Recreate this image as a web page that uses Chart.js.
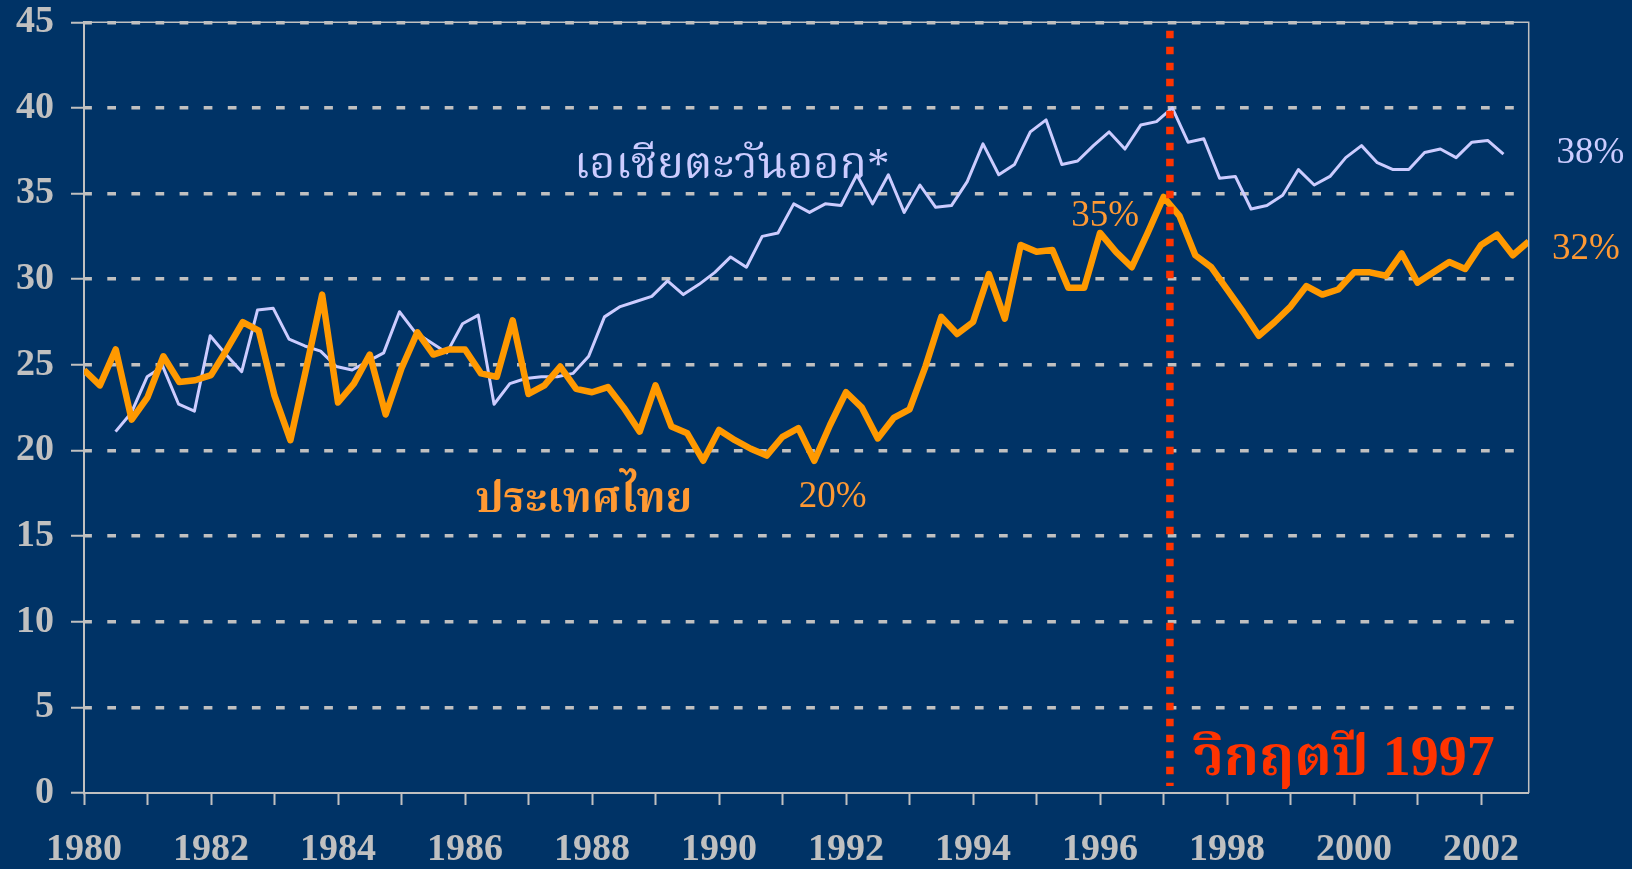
<!DOCTYPE html>
<html>
<head>
<meta charset="utf-8">
<title>Thailand vs East Asia</title>
<script src="https://cdn.jsdelivr.net/npm/chart.js@4.4.0/dist/chart.umd.min.js"></script>
<style>
  html, body { margin: 0; padding: 0; background: #003366; }
  canvas { display: block; }
</style>
</head>
<body>
<canvas id="chart" width="1632" height="869"></canvas>
<script>
'use strict';

/* #################### data #################### */
let firstYear = 1980;
let lastYear = 2002;
let yTicks = [0, 5, 10, 15, 20, 25, 30, 35, 40, 45];

//  Thailand, quarterly 1980 Q1 .. 2002 Q4
let thaiValues = [
  24.7, 23.8, 25.9, 21.8,   // 1980
  23.1, 25.5, 24.0, 24.1,   // 1981
  24.4, 25.9, 27.5, 27.0,   // 1982
  23.2, 20.6, 24.8, 29.1,   // 1983
  22.8, 23.9, 25.6, 22.1,   // 1984
  24.8, 26.9, 25.6, 25.9,   // 1985
  25.9, 24.5, 24.3, 27.6,   // 1986
  23.3, 23.8, 24.9, 23.6,   // 1987
  23.4, 23.7, 22.5, 21.1,   // 1988
  23.8, 21.4, 21.0, 19.4,   // 1989
  21.2, 20.6, 20.1, 19.7,   // 1990
  20.8, 21.3, 19.4, 21.5,   // 1991
  23.4, 22.5, 20.7, 21.9,   // 1992
  22.4, 24.9, 27.8, 26.8,   // 1993
  27.5, 30.3, 27.7, 32.0,   // 1994
  31.6, 31.7, 29.5, 29.5,   // 1995
  32.7, 31.6, 30.7, 32.7,   // 1996
  34.8, 33.7, 31.4, 30.7,   // 1997
  29.4, 28.1, 26.7, 27.5,   // 1998
  28.4, 29.6, 29.1, 29.4,   // 1999
  30.4, 30.4, 30.2, 31.5,   // 2000
  29.8, 30.4, 31.0, 30.6,   // 2001
  32.0, 32.6, 31.4, 32.2    // 2002
];

//  East Asia, quarterly 1980 Q3 .. 2002 Q3
let eastAsiaStart = 1980.5;
let eastAsiaValues = [
  21.1, 22.2,               // 1980
  24.3, 24.9, 22.7, 22.3,   // 1981
  26.7, 25.6, 24.6, 28.2,   // 1982
  28.3, 26.5, 26.1, 25.8,   // 1983
  24.9, 24.7, 25.2, 25.7,   // 1984
  28.1, 26.9, 26.3, 25.7,   // 1985
  27.4, 27.9, 22.7, 23.9,   // 1986
  24.2, 24.3, 24.3, 24.5,   // 1987
  25.5, 27.8, 28.4, 28.7,   // 1988
  29.0, 29.9, 29.1, 29.7,   // 1989
  30.4, 31.3, 30.7, 32.5,   // 1990
  32.7, 34.4, 33.9, 34.4,   // 1991
  34.3, 36.1, 34.4, 36.1,   // 1992
  33.9, 35.5, 34.2, 34.3,   // 1993
  35.7, 37.9, 36.1, 36.7,   // 1994
  38.6, 39.3, 36.7, 36.9,   // 1995
  37.8, 38.6, 37.6, 39.0,   // 1996
  39.2, 40.0, 38.0, 38.2,   // 1997
  35.9, 36.0, 34.1, 34.3,   // 1998
  34.9, 36.4, 35.5, 36.0,   // 1999
  37.1, 37.8, 36.8, 36.4,   // 2000
  36.4, 37.4, 37.6, 37.1,   // 2001
  38.0, 38.1, 37.3          // 2002
];

let crisisYear = 1997.1;  //  red dotted marker

/* #################### styles #################### */
let bgColor = '#003366';
let gridGray = '#C0C0C0';
let thaiColor = '#FF9900';
let thaiText = '#FF9933';
let eastAsiaColor = '#CCCCFF';
let crisisColor = '#FF3300';
let serif = "'Liberation Serif', 'Times New Roman', serif";
//  latin glyphs come from Liberation Serif, thai glyphs fall through to a thai font
let thaiFont = "'Liberation Serif', 'Noto Serif Thai', 'Noto Sans Thai', 'Tlwg Typo', Garuda, Loma, serif";

//  text notes drawn on the plot, placed in data units
let notes = [
  { text: 'เอเชียตะวันออก*', x: 1990.2, y: 35.9, color: eastAsiaColor, font: '45px ' + thaiFont, align: 'center' },
  { text: 'ประเทศไทย', x: 1987.87, y: 16.4, color: thaiText, font: 'bold 43px ' + thaiFont, align: 'center' },
  { text: '20%', x: 1991.79, y: 16.7, color: thaiText, font: '37px ' + serif, align: 'center' },
  { text: '35%', x: 1996.08, y: 33.1, color: thaiText, font: '37px ' + serif, align: 'center' },
  { text: '38%', x: 2003.72, y: 36.8, color: eastAsiaColor, font: '37px ' + serif, align: 'center' },
  { text: '32%', x: 2003.65, y: 31.2, color: thaiText, font: '37px ' + serif, align: 'center' },
  { text: 'วิกฤตปี 1997', x: 1997.47, y: 1.05, color: crisisColor, font: 'bold 56px ' + thaiFont, align: 'left' }
];

/* #################### build points #################### */
function toPoints(start, values) {
  let points = [];
  for (let idx = 0; idx < values.length; idx++) {
    points.push({ x: start + idx / 4, y: values[idx] });
  }
  return points;
}

//  background, plot frame, crisis line and notes
const overlayPlugin = {
  id: 'overlay',
  beforeDraw(chart) {
    const ctx = chart.ctx;
    ctx.save();
    ctx.fillStyle = bgColor;
    ctx.fillRect(0, 0, chart.width, chart.height);
    ctx.restore();
  },
  afterDatasetsDraw(chart) {
    const { ctx, chartArea, scales } = chart;
    ctx.save();

    //  top and right frame
    ctx.strokeStyle = gridGray;
    ctx.lineWidth = 1.5;
    ctx.beginPath();
    ctx.moveTo(chartArea.left, chartArea.top);
    ctx.lineTo(chartArea.right, chartArea.top);
    ctx.lineTo(chartArea.right, chartArea.bottom);
    ctx.stroke();

    //  1997 crisis marker
    let cx = scales.x.getPixelForValue(crisisYear);
    ctx.strokeStyle = crisisColor;
    ctx.lineWidth = 7.5;
    ctx.setLineDash([7.5, 8.5]);
    ctx.beginPath();
    ctx.moveTo(cx, scales.y.getPixelForValue(44.5));
    ctx.lineTo(cx, chartArea.bottom - 7);
    ctx.stroke();
    ctx.setLineDash([]);

    //  notes
    ctx.textBaseline = 'alphabetic';
    for (let idx = 0; idx < notes.length; idx++) {
      let note = notes[idx];
      ctx.font = note.font;
      ctx.fillStyle = note.color;
      ctx.textAlign = note.align;
      ctx.fillText(note.text, scales.x.getPixelForValue(note.x), scales.y.getPixelForValue(note.y));
    }
    ctx.restore();
  }
};

/* #################### chart #################### */
const config = {
  type: 'line',
  data: {
    datasets: [{
      label: 'ประเทศไทย',
      data: toPoints(firstYear, thaiValues),
      borderColor: thaiColor,
      borderWidth: 6.5,
      pointRadius: 0,
      tension: 0,
      borderJoinStyle: 'round',
      xAxisID: 'x'
    },
    {
      label: 'เอเชียตะวันออก*',
      data: toPoints(eastAsiaStart, eastAsiaValues),
      borderColor: eastAsiaColor,
      borderWidth: 3,
      pointRadius: 0,
      tension: 0,
      borderJoinStyle: 'round',
      xAxisID: 'x2'
    }]
  },
  options: {
    responsive: false,
    animation: false,
    devicePixelRatio: 1,
    layout: { padding: { top: 22.3, right: 103.3, left: 0, bottom: 0 } },
    plugins: { legend: { display: false }, tooltip: { enabled: false } },
    scales: {
      x: {
        type: 'linear',
        min: firstYear,
        max: lastYear + 0.75,
        afterFit: (scale) => {
          scale.height = 76;
          scale.paddingLeft = 0;
          scale.paddingRight = 0;
        },
        grid: { drawOnChartArea: false, tickLength: 12, tickColor: gridGray, tickWidth: 2 },
        border: { color: gridGray, width: 2 },
        ticks: {
          stepSize: 1,
          includeBounds: false,
          autoSkip: false,
          maxRotation: 0,
          padding: 22,
          color: gridGray,
          font: { family: serif, size: 38, weight: 'bold' },
          callback: (value) => (value % 2 === 0 ? String(value) : '')
        }
      },
      //  the East Asia series sits on its own slightly wider category span
      x2: {
        type: 'linear',
        display: false,
        min: firstYear,
        max: lastYear + 0.9
      },
      y: {
        min: yTicks[0],
        max: yTicks[yTicks.length - 1],
        afterFit: (scale) => {
          scale.width = 84;
          scale.paddingTop = 0;
          scale.paddingBottom = 0;
        },
        afterBuildTicks: (scale) => { scale.ticks = yTicks.map((v) => ({ value: v })); },
        grid: {
          color: (c) => (c.tick && c.tick.value === 0 ? 'rgba(0,0,0,0)' : gridGray),
          lineWidth: 3.5,
          tickLength: 13,
          tickColor: gridGray,
          tickWidth: 2
        },
        border: { color: gridGray, width: 2, dash: [8.7, 15.4], dashOffset: 1.8 },
        ticks: {
          padding: 17,
          color: gridGray,
          font: { family: serif, size: 38, weight: 'bold' }
        }
      }
    }
  },
  plugins: [overlayPlugin]
};

const growthChart = new Chart(document.getElementById('chart'), config);
</script>
</body>
</html>
